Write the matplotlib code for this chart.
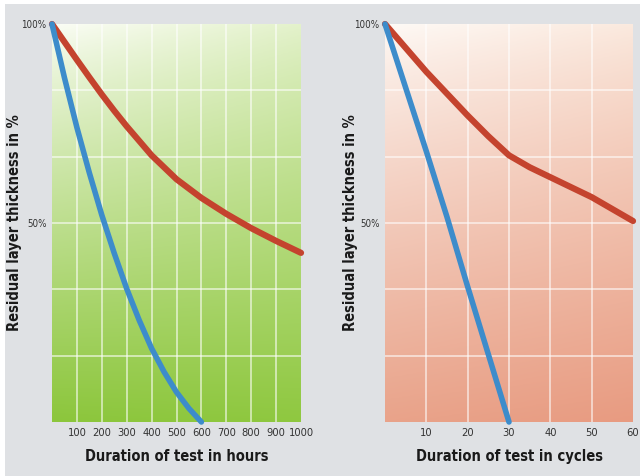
import numpy as np
import matplotlib
matplotlib.use("Agg")
import matplotlib.pyplot as plt
from matplotlib.patches import Rectangle
from matplotlib import font_manager as fm

# data
hours = [0, 50, 100, 150, 200, 250, 300, 400, 500, 600, 700, 800, 900, 1000]
hours_red = [100, 95.5, 91, 86.6, 82.3, 78.2, 74.3, 67, 61, 56.3, 52.3, 48.7,
             45.5, 42.5]
hours_blue_x = [0, 50, 100, 150, 200, 250, 300, 350, 400, 450, 500, 550, 600]
hours_blue = [100, 86.5, 74, 62.6, 52, 42.4, 33.5, 25.6, 18.5, 12.6, 7.5, 3.4, 0]

cycles = [0, 5, 10, 15, 20, 25, 30, 35, 40, 45, 50, 55, 60]
cycles_red = [100, 94, 88, 82.5, 77, 71.8, 67, 64, 61.5, 59, 56.5, 53.5, 50.5]
cycles_blue_x = [0, 5, 10, 15, 20, 25, 30]
cycles_blue = [100, 84, 68, 51.5, 34, 17, 0]

hour_ticks = [100, 200, 300, 400, 500, 600, 700, 800, 900, 1000]
cycle_ticks = [10, 20, 30, 40, 50, 60]

RED = "#c4432e"
BLUE = "#3d8ccb"

# look for a condensed face, otherwise shrink the text
cond = fm.findfont(fm.FontProperties(family="DejaVu Sans", stretch="condensed",
                                     weight="bold"), fallback_to_default=True)
FONT = ["DejaVu Sans"]
if "Condensed" in cond:
    STRETCH = "condensed"
    LSIZE, TSIZE = 10.5, 8
else:
    STRETCH = "normal"
    LSIZE, TSIZE = 9.5, 7


def gradient(ax, xlim, corners):
    tl, tr, bl, br = [np.array(matplotlib.colors.to_rgb(c)) for c in corners]
    ny, nx = 200, 100
    v = np.linspace(0, 1, ny)[:, None, None] ** 0.85
    u = np.linspace(0, 1, nx)[None, :, None]
    top = tl + (tr - tl) * u
    bot = bl + (br - bl) * u
    img = top + (bot - top) * v
    ax.imshow(img, extent=[xlim[0], xlim[1], 0, 100], origin="upper",
              aspect="auto", zorder=0)


def setup(ax, xlim, xticks, vgrid, xlabel, corners, ylab_x):
    gradient(ax, xlim, corners)
    ax.set_xlim(xlim)
    ax.set_ylim(0, 100)
    for s in ax.spines.values():
        s.set_visible(False)
    for x in vgrid:
        ax.axvline(x, color="white", lw=1.2, alpha=0.65, zorder=1)
    for y in np.arange(1, 6) * 100 / 6:
        ax.axhline(y, color="white", lw=1.2, alpha=0.65, zorder=1)
    ax.set_xticks(xticks)
    ax.set_xticklabels([str(t) for t in xticks], fontfamily=FONT,
                       fontstretch=STRETCH, fontsize=TSIZE, color="#333333")
    ax.set_yticks([50, 100])
    ax.set_yticklabels(["50%", "100%"], fontfamily=FONT, fontstretch=STRETCH,
                       fontsize=TSIZE - 1, color="#333333")
    ax.tick_params(length=0, pad=4)
    ax.set_xlabel(xlabel, fontfamily=FONT, fontstretch=STRETCH, fontsize=LSIZE,
                  fontweight="bold", color="#1a1a1a", labelpad=8)
    ax.set_ylabel("Residual layer thickness in %", fontfamily=FONT,
                  fontstretch=STRETCH, fontsize=LSIZE, fontweight="bold",
                  color="#1a1a1a")
    ax.yaxis.set_label_coords(ylab_x, 0.5)


fig = plt.figure(figsize=(6.4, 4.76), dpi=100)
fig.patch.set_facecolor("white")
fig.add_artist(Rectangle((5 / 640, 0), 1, 1 - 4 / 476, transform=fig.transFigure,
                         facecolor="#dfe1e4", edgecolor="none", zorder=-1))

ax1 = fig.add_axes([52 / 640, 1 - 422 / 476, 249 / 640, 398 / 476])
setup(ax1, (0, 1000), hour_ticks, hour_ticks[:-1], "Duration of test in hours",
      ["#fbfdf6", "#e4f2cc", "#8cc63c", "#8fc840"], -0.12)
ax1.plot(hours, hours_red, color=RED, lw=4.5, solid_capstyle="round",
         solid_joinstyle="round", clip_on=False, zorder=3)
ax1.plot(hours_blue_x, hours_blue, color=BLUE, lw=4, solid_capstyle="round",
         solid_joinstyle="round", clip_on=False, zorder=3)

ax2 = fig.add_axes([385 / 640, 1 - 422 / 476, 248 / 640, 398 / 476])
setup(ax2, (0, 60), cycle_ticks, cycle_ticks[:-1], "Duration of test in cycles",
      ["#fefaf6", "#fbeadf", "#e9a38a", "#e89b81"], -0.11)
ax2.plot(cycles, cycles_red, color=RED, lw=4.5, solid_capstyle="round",
         solid_joinstyle="round", clip_on=False, zorder=3)
ax2.plot(cycles_blue_x, cycles_blue, color=BLUE, lw=4, solid_capstyle="round",
         solid_joinstyle="round", clip_on=False, zorder=3)

fig.savefig("out.png", dpi=100, facecolor=fig.get_facecolor())
